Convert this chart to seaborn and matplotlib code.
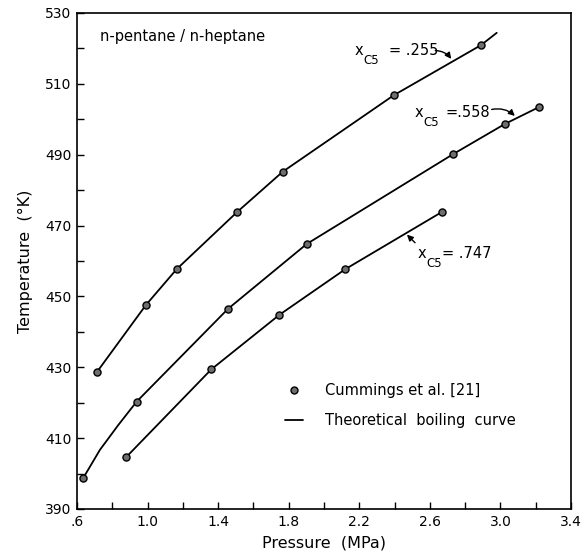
import numpy as np
import pandas as pd
import matplotlib
matplotlib.use("Agg")
import matplotlib.pyplot as plt
from matplotlib.lines import Line2D
from matplotlib.ticker import MultipleLocator
import seaborn as sns

# ---- data ----
# measured points (Cummings et al. [21])
p_255 = [0.715, 0.991, 1.165, 1.507, 1.766, 2.396, 2.889]
t_255 = [428.8, 447.6, 457.7, 473.8, 485.2, 506.8, 520.9]
p_558 = [0.636, 0.938, 1.456, 1.902, 2.733, 3.026, 3.221]
t_558 = [398.8, 420.3, 446.5, 464.8, 490.2, 498.7, 503.5]
p_747 = [0.878, 1.361, 1.747, 2.121, 2.667]
t_747 = [404.6, 429.4, 444.8, 457.7, 473.8]

# theoretical boiling curves
cp_255 = [0.715, 0.991, 1.165, 1.507, 1.766, 2.396, 2.889, 2.979]
ct_255 = [428.8, 447.6, 457.7, 473.8, 485.2, 506.8, 520.9, 524.4]
cp_558 = [0.636, 0.730, 0.834, 0.938, 1.456, 1.902, 2.733, 3.026, 3.221]
ct_558 = [398.8, 406.7, 413.7, 420.3, 446.5, 464.8, 490.2, 498.7, 503.5]
cp_747 = [0.878, 1.361, 1.747, 2.121, 2.667]
ct_747 = [404.6, 429.4, 444.8, 457.7, 473.8]

series_labels = [".255", ".558", ".747"]
x_ticks = [0.6, 1.0, 1.4, 1.8, 2.2, 2.6, 3.0, 3.4]
x_ticklabels = [".6", "1.0", "1.4", "1.8", "2.2", "2.6", "3.0", "3.4"]
y_ticks = [390, 410, 430, 450, 470, 490, 510, 530]

# ---- build frames ----
pts = pd.concat([
    pd.DataFrame({"P": p_255, "T": t_255, "x": series_labels[0]}),
    pd.DataFrame({"P": p_558, "T": t_558, "x": series_labels[1]}),
    pd.DataFrame({"P": p_747, "T": t_747, "x": series_labels[2]}),
])
curves = pd.concat([
    pd.DataFrame({"P": cp_255, "T": ct_255, "x": series_labels[0]}),
    pd.DataFrame({"P": cp_558, "T": ct_558, "x": series_labels[1]}),
    pd.DataFrame({"P": cp_747, "T": ct_747, "x": series_labels[2]}),
])

sns.set_theme(style="white")
plt.rcParams["font.family"] = ["DejaVu Sans"]
plt.rcParams["text.color"] = "black"
plt.rcParams["axes.labelcolor"] = "black"
plt.rcParams["xtick.color"] = "black"
plt.rcParams["ytick.color"] = "black"

fig = plt.figure(figsize=(5.86, 5.58), dpi=100)
ax = fig.add_axes([77/586, 49/558, 494/586, 496/558])

for lab in series_labels:
    sub = curves[curves["x"] == lab]
    sns.lineplot(data=sub, x="P", y="T", sort=False, estimator=None,
                 color="black", lw=1.3, ax=ax, legend=False)
sns.scatterplot(data=pts, x="P", y="T", s=26, color="#6e6e6e",
                edgecolor="black", linewidth=1.0, ax=ax, legend=False, zorder=3)

ax.set_xlim(0.6, 3.4)
ax.set_ylim(390, 530)
ax.set_xticks(x_ticks)
ax.set_xticklabels(x_ticklabels)
ax.set_yticks(y_ticks)
ax.xaxis.set_minor_locator(MultipleLocator(0.2))
ax.yaxis.set_minor_locator(MultipleLocator(10))
ax.tick_params(which="both", direction="in", length=5, width=1.0,
               colors="black", labelsize=10, pad=4,
               bottom=True, left=True, top=False, right=False)
for sp in ax.spines.values():
    sp.set_color("black")
    sp.set_linewidth(1.2)

ax.set_xlabel("Pressure  (MPa)", fontsize=11.5, labelpad=5, color="black")
ax.set_ylabel("Temperature  (°K)", fontsize=11.5, labelpad=9, color="black")

ax.text(0.046, 0.952, "n-pentane / n-heptane", transform=ax.transAxes,
        fontsize=10.5, va="center", ha="left", color="black")

# composition labels
def comp_label(px, py, value, vx, arrow_from, arrow_to, rad):
    ax.text(px, py, "x", fontsize=10.5, va="center", ha="left", color="black")
    ax.text(px + 0.045, py - 2.8, "C5", fontsize=8.5, va="center", ha="left",
            color="black")
    ax.text(vx, py, value, fontsize=10.5, va="center", ha="left", color="black")
    ax.annotate("", xy=arrow_to, xytext=arrow_from,
                arrowprops=dict(arrowstyle="-|>", color="black", lw=1.0,
                                mutation_scale=9,
                                connectionstyle=f"arc3,rad={rad}"))

comp_label(2.176, 519.5, "= .255", 2.370, (2.615, 519.4), (2.73, 516.4), -0.3)
comp_label(2.516, 502.0, "=.558", 2.686, (2.935, 502.6), (3.093, 500.4), -0.3)
comp_label(2.533, 462.0, "= .747", 2.669, (2.527, 464.6), (2.459, 468.0), 0.0)

# legend
handles = [
    Line2D([], [], marker="o", ls="none", markersize=5,
           markerfacecolor="#6e6e6e", markeredgecolor="black"),
    Line2D([], [], color="black", lw=1.3),
]
leg = ax.legend(handles, ["Cummings et al. [21]", "Theoretical  boiling  curve"],
                loc="center left", bbox_to_anchor=(0.395, 0.208), frameon=False,
                fontsize=10.5, handlelength=1.2, handletextpad=1.5,
                labelspacing=1.05)
for t in leg.get_texts():
    t.set_color("black")

fig.savefig("out.png", dpi=100, facecolor="white")
